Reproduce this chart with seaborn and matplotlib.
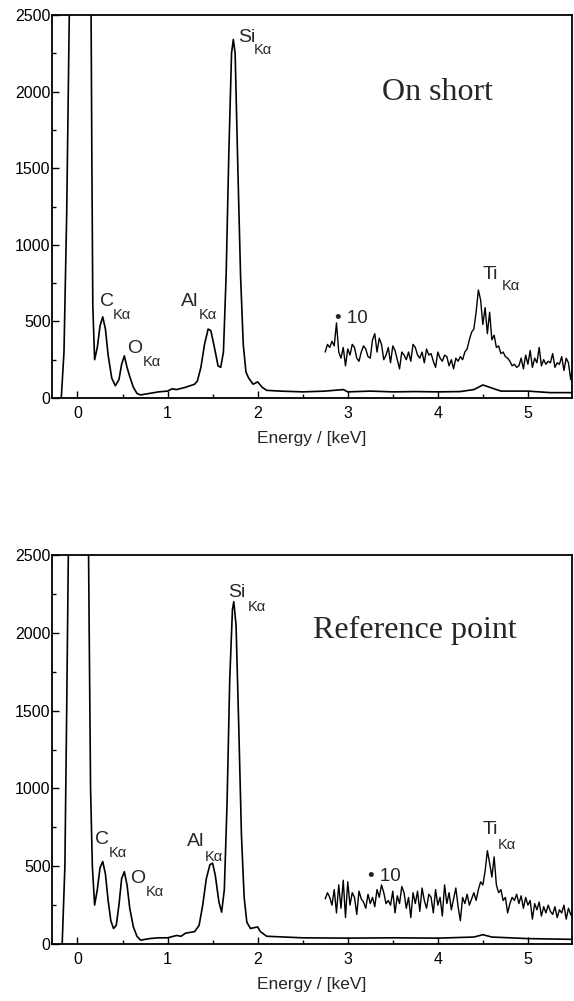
import numpy as np
import pandas as pd
import matplotlib
matplotlib.use('Agg')
import matplotlib.pyplot as plt
from matplotlib.ticker import MultipleLocator
import seaborn as sns

# EDX spectra, counts
top_energy = [-0.18, -0.15, -0.12, -0.09, 0.0, 0.15, 0.16, 0.17, 0.19, 0.22, 0.25, 0.28,
              0.31, 0.34, 0.38, 0.42, 0.46, 0.49, 0.52, 0.55, 0.58, 0.62, 0.66, 0.70,
              0.80, 0.90, 1.00, 1.05, 1.10, 1.20, 1.25, 1.30, 1.33, 1.37, 1.41, 1.45,
              1.48, 1.52, 1.56, 1.59, 1.62, 1.65, 1.68, 1.71, 1.73, 1.75, 1.78, 1.81,
              1.84, 1.87, 1.90, 1.95, 2.00, 2.05, 2.10, 2.25, 2.50, 2.75, 2.95, 3.00,
              3.25, 3.50, 3.75, 4.00, 4.25, 4.40, 4.50, 4.60, 4.70, 5.00, 5.25, 5.50]
top_counts = [0, 300, 1200, 2550, 3500, 2600, 1500, 600, 250, 330, 470, 530,
              450, 280, 130, 80, 120, 220, 275, 200, 140, 70, 30, 20,
              30, 40, 45, 60, 55, 70, 80, 90, 110, 200, 350, 450,
              440, 330, 210, 200, 300, 800, 1600, 2250, 2340, 2250, 1500, 800,
              350, 170, 130, 90, 105, 70, 50, 45, 40, 45, 55, 40,
              45, 40, 42, 40, 42, 55, 85, 65, 45, 45, 35, 35]

bot_energy = [-0.17, -0.14, -0.12, -0.10, 0.0, 0.12, 0.13, 0.145, 0.165, 0.19, 0.22, 0.25,
              0.28, 0.31, 0.34, 0.37, 0.40, 0.43, 0.46, 0.49, 0.52, 0.55, 0.58, 0.62,
              0.66, 0.70, 0.80, 0.90, 1.00, 1.10, 1.15, 1.20, 1.30, 1.35, 1.39, 1.43,
              1.47, 1.50, 1.53, 1.57, 1.60, 1.63, 1.66, 1.69, 1.72, 1.735, 1.76, 1.79,
              1.82, 1.85, 1.88, 1.92, 2.00, 2.03, 2.10, 2.50, 3.00, 3.50, 4.00, 4.40,
              4.50, 4.60, 5.00, 5.50]
bot_counts = [0, 500, 1500, 2600, 3500, 2700, 2000, 1000, 500, 250, 350, 490,
              530, 450, 280, 150, 100, 120, 250, 420, 465, 380, 230, 110,
              50, 25, 35, 40, 40, 55, 50, 70, 80, 120, 250, 420,
              510, 520, 440, 270, 205, 350, 900, 1700, 2150, 2200, 2050, 1400,
              700, 300, 140, 100, 110, 80, 50, 40, 38, 40, 38, 45,
              60, 45, 35, 30]

# x10 magnified part, one value per 0.025 keV channel from 2.75 keV
top_x10 = [300, 350, 330, 370, 340, 490, 300, 260, 330, 210,
           320, 280, 350, 330, 260, 240, 300, 340, 320, 270,
           260, 380, 420, 300, 390, 350, 250, 280, 330, 230,
           340, 310, 250, 190, 300, 280, 250, 300, 240, 350,
           330, 280, 260, 300, 230, 320, 280, 290, 240, 200,
           300, 260, 240, 280, 270, 210, 250, 190, 260, 240,
           270, 250, 300, 320, 380, 430, 450, 560, 705, 640,
           480, 590, 420, 560, 380, 410, 330, 340, 290, 300,
           270, 260, 240, 210, 220, 200, 210, 260, 190, 280,
           220, 310, 200, 260, 230, 330, 210, 250, 220, 240,
           230, 290, 200, 230, 220, 270, 180, 260, 230, 120, 220]
bot_x10 = [290, 330, 300, 250, 350, 200, 380, 230, 410, 170,
           400, 250, 330, 300, 190, 340, 290, 270, 230, 320,
           260, 300, 240, 350, 300, 380, 330, 260, 280, 250,
           340, 200, 310, 260, 370, 330, 230, 300, 170, 330,
           260, 340, 210, 360, 280, 230, 320, 300, 200, 350,
           250, 300, 180, 380, 260, 330, 220, 290, 360, 240,
           150, 300, 260, 320, 250, 290, 330, 280, 350, 400,
           380, 470, 600, 520, 430, 560, 380, 330, 350, 280,
           300, 200, 260, 300, 280, 320, 260, 310, 230, 300,
           250, 280, 160, 260, 220, 270, 180, 240, 200, 250,
           210, 190, 240, 170, 220, 200, 250, 160, 230, 190, 170]

# peak labels: (element, x, y, subscript x, subscript y)
top_labels = [('C', 0.33, 627, 0.49, 542), ('O', 0.64, 326, 0.83, 235),
              ('Al', 1.25, 627, 1.45, 542), ('Si', 1.88, 2356, 2.06, 2271),
              ('Ti', 4.58, 803, 4.81, 731)]
bot_labels = [('C', 0.27, 669, 0.45, 585), ('O', 0.67, 424, 0.86, 334),
              ('Al', 1.31, 656, 1.51, 559), ('Si', 1.77, 2257, 1.99, 2168),
              ('Ti', 4.58, 733, 4.77, 637)]

sns.set_style('ticks')
plt.rcParams['font.family'] = ['Liberation Sans', 'DejaVu Sans']

fig = plt.figure(figsize=(5.74, 10.01), dpi=100)
ax_top = fig.add_axes([0.0906, 0.6024, 0.9060, 0.3826])
ax_bot = fig.add_axes([0.0906, 0.0569, 0.9060, 0.3886])


def draw_panel(ax, energy, counts, x10, labels, title, title_xy, star_xy):
    main = pd.DataFrame({'energy': energy, 'counts': counts})
    mag = pd.DataFrame({'energy': np.round(2.75 + 0.025 * np.arange(len(x10)), 3),
                        'counts': x10})
    sns.lineplot(data=main, x='energy', y='counts', ax=ax, color='black',
                 linewidth=1.2, estimator=None, sort=False)
    sns.lineplot(data=mag, x='energy', y='counts', ax=ax, color='black',
                 linewidth=1.0, estimator=None, sort=False)
    ax.set_xlim(-0.283, 5.49)
    ax.set_ylim(0, 2500)
    ax.xaxis.set_major_locator(MultipleLocator(1))
    ax.xaxis.set_minor_locator(MultipleLocator(0.5))
    ax.yaxis.set_major_locator(MultipleLocator(500))
    ax.yaxis.set_minor_locator(MultipleLocator(250))
    ax.tick_params(which='both', direction='in', width=1.0, labelsize=11.5,
                   colors='black')
    ax.tick_params(axis='x', pad=6)
    ax.tick_params(axis='y', pad=1)
    ax.tick_params(which='major', length=5)
    ax.tick_params(which='minor', length=3)
    for s in ax.spines.values():
        s.set_visible(True)
        s.set_linewidth(1.3)
        s.set_color('black')
    ax.set_ylabel('')
    ax.set_xlabel('Energy / [keV]', fontsize=12.5, labelpad=7)
    for el, x, y, sx, sy in labels:
        ax.text(x, y, el, fontsize=14, ha='center', va='center')
        ax.text(sx, sy, 'K\u03b1', fontsize=10.5, ha='center', va='center')
    ax.text(star_xy[0], star_xy[1], '\u2022 10', fontsize=13.5, ha='left', va='center')
    ax.text(title_xy[0], title_xy[1], title, fontsize=23, ha='center', va='center',
            family=['Liberation Serif', 'DejaVu Serif'])


draw_panel(ax_top, top_energy, top_counts, top_x10, top_labels,
           'On short', (4.0, 1997), (2.86, 516))
draw_panel(ax_bot, bot_energy, bot_counts, bot_x10, bot_labels,
           'Reference point', (3.75, 2018), (3.22, 437))

fig.savefig('out.png', dpi=100, facecolor='white')
